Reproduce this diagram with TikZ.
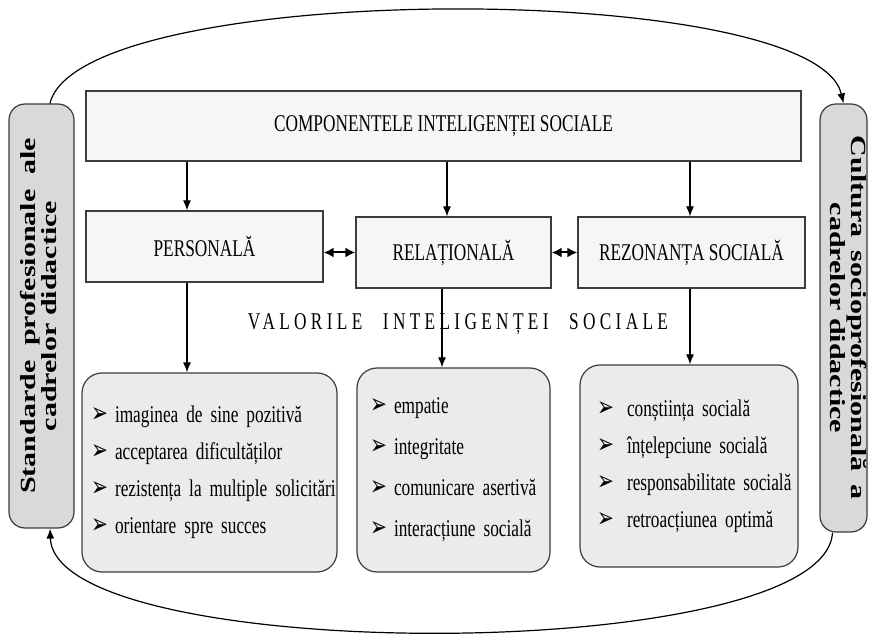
\documentclass[tikz,border=0pt]{standalone}
\usepackage{fontspec}
\setmainfont{Liberation Serif}[FakeStretch=0.72]
\newfontfamily\sidefont{Liberation Serif}
\newfontfamily\bulletfont{DejaVu Sans}[FakeStretch=0.72]
\usepackage{tikz}
\usetikzlibrary{positioning,calc,arrows.meta}
\usepackage{xcolor}
\definecolor{boxline}{HTML}{3C3C3C}
\definecolor{headfill}{HTML}{F6F6F6}
\definecolor{valfill}{HTML}{EBEBEB}
\definecolor{sidefill}{HTML}{D9D9D9}
\newcommand{\itm}[2][12pt]{\mbox{\makebox[#1][l]{\bulletfont\fontsize{14}{14}\selectfont ➢}#2}}
\newcommand{\sidetext}[2]{\scalebox{1}[0.72]{\sidefont\bfseries\fontsize{15}{14}\selectfont
  \begin{tabular}{@{}c@{}}#1\\#2\end{tabular}}}

\begin{document}
\begin{tikzpicture}[x=0.5pt,y=-0.5pt,
  every node/.style={font=\fontsize{12}{18.5}\selectfont},
  headbox/.style={rectangle, draw=boxline, line width=0.6pt, fill=headfill, inner sep=0pt},
  valbox/.style={rectangle, rounded corners=10pt, draw=boxline, line width=0.6pt,
    fill=valfill, align=left, inner ysep=0pt},
  sidebox/.style={rectangle, rounded corners=8pt, draw=boxline, line width=0.6pt,
    fill=sidefill, inner sep=0pt},
  link/.style={draw=black, line width=0.6pt, -{Latex[length=5pt,width=4pt]}},
  twolink/.style={draw=black, line width=1pt, {Latex[length=5pt,width=5pt]}-{Latex[length=5pt,width=5pt]}}
  ]
  \useasboundingbox (0,0) rectangle (869,636);

  % componente
  \node[headbox, minimum width=357.5pt, minimum height=35pt] (comp) at (443.5,126)
    {COMPONENTELE INTELIGENȚEI SOCIALE};
  \node[headbox, minimum width=118.5pt, minimum height=35.5pt] (pers) at (204.5,246.5) {PERSONALĂ};
  \node[headbox, minimum width=97.5pt, minimum height=35.5pt] (rel) at (453.5,252.5) {RELAȚIONALĂ};
  \node[headbox, minimum width=113.5pt, minimum height=35.5pt] (rez) at (691.5,252.5) {REZONANȚA SOCIALĂ};

  % valori
  \node (val) at (458,324)
    {\addfontfeature{LetterSpace=18}VALORILE\hspace{6pt} INTELIGENȚEI\hspace{6pt} SOCIALE};
  \node[valbox, minimum height=99.5pt, text width=118.5pt, inner xsep=4.5pt] (vpers) at (209.5,472.5)
    {\itm{imaginea de sine pozitivă}\\ \itm{acceptarea dificultăților}\\
     \itm{rezistența la multiple solicitări}\\ \itm{orientare spre succes}};
  \node[valbox, minimum height=102pt, text width=83.5pt, inner xsep=6.5pt,
    font=\fontsize{12}{20.5}\selectfont] (vrel) at (453.5,470)
    {\itm{empatie}\\ \itm{integritate}\\ \itm{comunicare asertivă}\\ \itm{interacțiune socială}};
  \node[valbox, minimum height=101pt, text width=92pt, inner xsep=8.5pt] (vrez) at (689,466)
    {\itm[15pt]{conștiința socială}\\ \itm[15pt]{înțelepciune socială}\\
     \itm[15pt]{responsabilitate socială}\\ \itm[15pt]{retroacțiunea optimă}};

  % cadre
  \node[sidebox, minimum width=32.5pt, minimum height=212pt] (stand) at (41.5,316)
    {\rotatebox{90}{\sidetext{\makebox[178pt][s]{Standarde profesionale ale}}{cadrelor didactice}}};
  \node[sidebox, minimum width=23.5pt, minimum height=214pt] (cult) at (843.5,318)
    {\hspace*{1pt}\rotatebox{-90}{\sidetext{\makebox[182pt][s]{Cultura socioprofesională a}}{cadrelor didactice}}\hspace*{-1pt}};

  \coordinate (a1) at (187,0);
  \coordinate (a2) at (447,0);
  \coordinate (a3) at (442,0);
  \coordinate (a4) at (690,0);

  \draw[link] (comp.south -| a1) -- (pers.north -| a1);
  \draw[link] (comp.south -| a2) -- (rel.north -| a2);
  \draw[link] (comp.south -| a4) -- (rez.north -| a4);
  \draw[twolink] (pers.east |- rel.west) -- (rel.west);
  \draw[twolink] (rel.east) -- (rez.west);
  \draw[link] (pers.south -| a1) -- (vpers.north -| a1);
  \draw[link] (rel.south -| a3) -- (vrel.north -| a3);
  \draw[link] (rez.south -| a4) -- (vrez.north -| a4);

  \draw[link] ([xshift=4.25pt]stand.north) .. controls (80,-21) and (815,-21) .. (cult.north);
  \draw[link] ([xshift=-5.5pt]cult.south) .. controls (825,666) and (55,666) .. ([xshift=4.25pt]stand.south);
\end{tikzpicture}
\end{document}
